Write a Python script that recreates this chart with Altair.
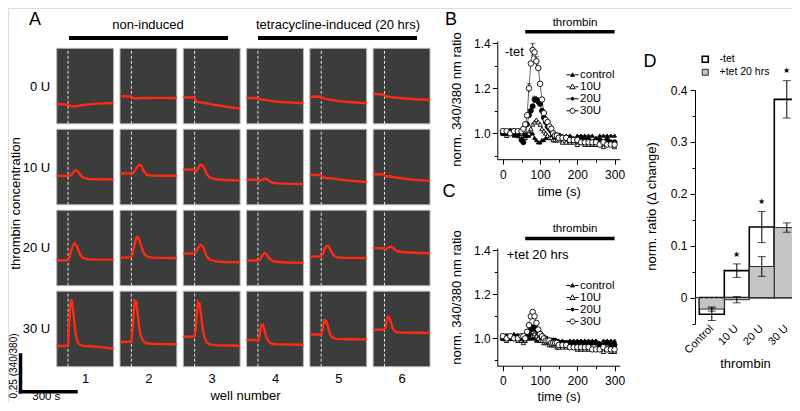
import json
import altair as alt
import pandas as pd

FONT = "Liberation Sans"
W, H = 784, 395
MARGIN = 8


def X(p):
    return round(p - MARGIN, 2)


def Y(p):
    return round(p - MARGIN, 2)


# ---------------- Panel A data ----------------
WELLS = [1, 2, 3, 4, 5, 6]
CONCENTRATIONS = ["0 U", "10 U", "20 U", "30 U"]
A_TIMES = [0, 50, 60, 66, 72, 78, 86, 94, 102, 112, 124, 140, 170, 220, 300]
TRACE_0U = [
    [0.135, 0.132, 0.130, 0.126, 0.123, 0.121, 0.119, 0.119, 0.120, 0.122, 0.125, 0.128, 0.133, 0.138, 0.142],
    [0.188, 0.186, 0.184, 0.178, 0.175, 0.174, 0.174, 0.174, 0.175, 0.175, 0.176, 0.176, 0.177, 0.177, 0.176],
    [0.181, 0.180, 0.178, 0.160, 0.152, 0.150, 0.148, 0.146, 0.145, 0.143, 0.140, 0.136, 0.128, 0.118, 0.104],
    [0.177, 0.176, 0.172, 0.168, 0.166, 0.165, 0.164, 0.163, 0.162, 0.160, 0.158, 0.155, 0.151, 0.146, 0.140],
    [0.184, 0.186, 0.180, 0.176, 0.174, 0.172, 0.170, 0.168, 0.166, 0.164, 0.162, 0.158, 0.153, 0.147, 0.140],
    [0.204, 0.200, 0.195, 0.188, 0.186, 0.185, 0.184, 0.182, 0.180, 0.180, 0.178, 0.176, 0.173, 0.168, 0.164],
]
TRACE_10U = [
    [0.198, 0.197, 0.197, 0.197, 0.200, 0.206, 0.218, 0.230, 0.236, 0.228, 0.205, 0.185, 0.176, 0.174, 0.173],
    [0.213, 0.214, 0.214, 0.215, 0.220, 0.230, 0.248, 0.264, 0.272, 0.268, 0.235, 0.205, 0.199, 0.198, 0.198],
    [0.240, 0.241, 0.236, 0.226, 0.232, 0.248, 0.265, 0.273, 0.268, 0.245, 0.210, 0.185, 0.174, 0.169, 0.165],
    [0.172, 0.170, 0.168, 0.166, 0.166, 0.168, 0.172, 0.177, 0.178, 0.170, 0.158, 0.150, 0.146, 0.143, 0.141],
    [0.204, 0.203, 0.200, 0.190, 0.186, 0.184, 0.183, 0.182, 0.181, 0.180, 0.178, 0.175, 0.170, 0.163, 0.155],
    [0.208, 0.207, 0.204, 0.196, 0.192, 0.192, 0.194, 0.193, 0.190, 0.188, 0.186, 0.183, 0.177, 0.170, 0.163],
]
TRACE_20U = [
    [0.172, 0.173, 0.175, 0.190, 0.215, 0.245, 0.275, 0.289, 0.280, 0.250, 0.210, 0.188, 0.180, 0.178, 0.178],
    [0.192, 0.193, 0.196, 0.215, 0.250, 0.290, 0.325, 0.333, 0.310, 0.270, 0.225, 0.200, 0.192, 0.190, 0.189],
    [0.220, 0.222, 0.224, 0.228, 0.240, 0.258, 0.272, 0.278, 0.270, 0.240, 0.200, 0.178, 0.166, 0.162, 0.160],
    [0.171, 0.172, 0.170, 0.172, 0.180, 0.195, 0.212, 0.222, 0.218, 0.200, 0.180, 0.168, 0.162, 0.158, 0.156],
    [0.198, 0.200, 0.202, 0.210, 0.228, 0.250, 0.268, 0.273, 0.262, 0.235, 0.208, 0.195, 0.191, 0.190, 0.189],
    [0.258, 0.256, 0.254, 0.248, 0.252, 0.258, 0.264, 0.267, 0.262, 0.250, 0.238, 0.232, 0.228, 0.225, 0.222],
]
TRACE_30U = [
    [0.141, 0.142, 0.148, 0.300, 0.430, 0.460, 0.390, 0.290, 0.210, 0.165, 0.148, 0.142, 0.139, 0.135, 0.122],
    [0.168, 0.169, 0.172, 0.240, 0.360, 0.450, 0.440, 0.350, 0.260, 0.200, 0.172, 0.160, 0.156, 0.154, 0.153],
    [0.204, 0.205, 0.206, 0.260, 0.370, 0.440, 0.430, 0.350, 0.260, 0.200, 0.165, 0.152, 0.147, 0.145, 0.143],
    [0.182, 0.181, 0.180, 0.195, 0.240, 0.285, 0.288, 0.255, 0.210, 0.180, 0.162, 0.155, 0.152, 0.151, 0.150],
    [0.220, 0.220, 0.222, 0.240, 0.285, 0.318, 0.312, 0.280, 0.240, 0.210, 0.195, 0.190, 0.188, 0.187, 0.186],
    [0.252, 0.253, 0.255, 0.270, 0.310, 0.340, 0.335, 0.300, 0.265, 0.245, 0.236, 0.233, 0.232, 0.231, 0.230],
]
THROMBIN_ADDED_S = 60
SCALE_BAR_S = 300
SCALE_BAR_RATIO = 0.25

# ---------------- Panels B / C data ----------------
SERIES = ["control", "10U", "20U", "30U"]
BC_TIMES = [0, 10, 20, 30, 40, 50, 55, 60, 65, 70, 75, 80, 85, 90, 95, 100, 105, 110, 115, 120, 125,
            130, 135, 140, 145, 150, 160, 170, 180, 190, 200, 210, 220, 230, 240, 250, 260, 270, 280, 290, 300]
B_CONTROL = [1.00, 1.01, 1.00, 0.99, 1.00, 1.00,
             1.00, 0.99, 0.99, 0.99, 1.00, 1.00, 0.98, 0.97, 0.96, 0.96, 0.97, 0.97, 0.98, 0.98,
             0.98, 0.99, 0.98, 0.98, 0.99, 0.99,
             0.99, 0.99, 0.99, 0.98, 0.99, 0.99, 0.99, 0.99, 0.99, 0.98, 0.99, 0.99, 0.99, 0.99, 0.99]
B_10U = [1.00, 0.99, 1.00, 1.00, 1.00, 1.00,
         0.99, 0.98, 1.00, 1.00, 1.02, 1.04, 1.05, 1.06, 1.05, 1.04, 1.02, 1.01, 1.00, 0.99,
         0.98, 0.98, 0.97, 0.97, 0.97, 0.97,
         0.96, 0.96, 0.96, 0.96, 0.95, 0.96, 0.95, 0.95, 0.95, 0.95, 0.95, 0.94, 0.95, 0.95, 0.94]
B_20U = [1.00, 1.00, 1.01, 1.00, 0.99, 0.97,
         0.96, 0.99, 1.04, 1.08, 1.10, 1.12, 1.15, 1.15, 1.14, 1.13, 1.10, 1.07, 1.05, 1.03,
         1.02, 1.01, 1.00, 0.99, 0.99, 0.99,
         0.98, 0.98, 0.98, 0.97, 0.97, 0.98, 0.97, 0.97, 0.96, 0.97, 0.97, 0.96, 0.97, 0.96, 0.96]
B_30U = [1.01, 1.01, 1.00, 1.01, 1.01, 1.01,
         1.02, 1.04, 1.08, 1.20, 1.31, 1.37, 1.36, 1.32, 1.29, 1.22, 1.15, 1.09, 1.06, 1.05,
         1.03, 1.02, 1.00, 0.99, 0.99, 0.98,
         0.98, 0.98, 0.97, 0.97, 0.97, 0.96, 0.96, 0.96, 0.96, 0.96, 0.95, 0.96, 0.95, 0.95, 0.95]
C_CONTROL = [1.01, 1.00, 1.01, 1.02, 1.01, 1.00,
             1.00, 1.00, 1.00, 1.00, 1.00, 1.00, 1.00, 0.99, 0.99, 0.99, 0.99, 0.99, 0.99, 0.99,
             0.99, 0.99, 0.99, 0.98, 0.99, 0.99,
             0.99, 0.98, 0.99, 0.99, 0.99, 0.99, 0.99, 0.99, 0.99, 0.99, 0.98, 0.99, 0.99, 0.99, 0.99]
C_10U = [1.00, 0.99, 1.00, 1.00, 0.99, 0.99,
         0.98, 0.99, 1.00, 1.01, 1.02, 1.03, 1.02, 1.01, 1.00, 0.99, 0.99, 0.98, 0.98, 0.98,
         0.97, 0.97, 0.97, 0.97, 0.96, 0.96,
         0.96, 0.96, 0.96, 0.96, 0.95, 0.95, 0.95, 0.95, 0.95, 0.95, 0.95, 0.94, 0.95, 0.94, 0.94]
C_20U = [1.00, 1.01, 1.00, 1.00, 1.01, 1.00,
         1.00, 1.00, 1.01, 1.02, 1.04, 1.05, 1.05, 1.04, 1.03, 1.02, 1.01, 1.00, 1.00, 0.99,
         0.99, 0.99, 0.99, 0.99, 0.98, 0.98,
         0.98, 0.98, 0.98, 0.97, 0.98, 0.98, 0.98, 0.97, 0.98, 0.98, 0.97, 0.97, 0.98, 0.97, 0.97]
C_30U = [1.01, 1.00, 1.01, 1.00, 1.00, 1.01,
         1.01, 1.00, 1.03, 1.06, 1.10, 1.12, 1.10, 1.07, 1.04, 1.02, 1.01, 1.00, 0.99, 0.99,
         0.99, 0.98, 0.98, 0.98, 0.98, 0.97,
         0.97, 0.97, 0.96, 0.96, 0.96, 0.96, 0.96, 0.96, 0.95, 0.95, 0.95, 0.96, 0.95, 0.95, 0.95]
B_ERR_SERIES = ["30U", "30U", "30U", "20U", "20U"]
B_ERR_T = [70, 80, 90, 85, 95]
B_ERR_SIZE = [0.02, 0.03, 0.02, 0.015, 0.015]
THROMBIN_PERIOD = [60, 300]

# ---------------- Panel D data ----------------
D_CATS = ["Control", "10 U", "20 U", "30 U"]
D_GROUPS = ["-tet", "+tet 20 hrs"]
D_MINUS_TET = [-0.032, 0.052, 0.136, 0.382]
D_MINUS_ERR = [0.012, 0.013, 0.030, 0.036]
D_PLUS_TET = [-0.022, -0.004, 0.060, 0.135]
D_PLUS_ERR = [0.004, 0.006, 0.019, 0.009]
D_SIGNIFICANT = ["10 U", "20 U", "30 U"]

# ---------------- layout ----------------
A_PITCH_S, A_PANEL_S = 334, 300
A_PITCH_U, A_PANEL_U = 0.552, 0.515
A_XD = [0, 5 * A_PITCH_S + A_PANEL_S]
A_XR = [X(56.7), X(430)]
A_YD = [0, 3 * A_PITCH_U + A_PANEL_U]
A_YR = [Y(366.7), Y(48.3)]

B_XD = [-15, 314]
B_XR = [X(497.3), X(619.8)]
B_YD = [0.885, 1.41]
B_YR = [Y(159.2), Y(41.05)]
C_YD = [0.876, 1.41]
C_YR = [Y(365.7), Y(248)]

D_XR = [X(699.3), X(799.3)]
D_YD = [-0.05, 0.4]
D_YR = [Y(323.6), Y(90)]

AX = dict(grid=False, domainColor="black", tickColor="black", labelColor="black",
          titleColor="black", labelFont=FONT, titleFont=FONT, titleFontWeight="normal",
          labelFlush=False, labelOverlap=False)

ONE = pd.DataFrame({"one": [0]})


def lin(domain, rng):
    return alt.Scale(domain=domain, range=rng, nice=False, zero=False)


def text(txt, x, y, size, align="center", baseline="middle", angle=0):
    return alt.Chart(ONE).mark_text(
        text=txt, fontSize=size, align=align, baseline=baseline, angle=angle,
        font=FONT, color="black"
    ).encode(x=alt.value(x), y=alt.value(y))


layers = []

# ================= Panel A =================
cells = []
for r, conc in enumerate(CONCENTRATIONS):
    for k, w in enumerate(WELLS):
        x0 = k * A_PITCH_S
        y0 = (3 - r) * A_PITCH_U
        cells.append({"well": w, "conc": conc, "x0": x0, "x1": x0 + A_PANEL_S,
                      "y0": y0, "y1": y0 + A_PANEL_U, "xs": x0 + THROMBIN_ADDED_S})
cells = pd.DataFrame(cells)

trace_rows = []
for r, traces in enumerate([TRACE_0U, TRACE_10U, TRACE_20U, TRACE_30U]):
    for k, vals in enumerate(traces):
        for t, v in zip(A_TIMES, vals):
            trace_rows.append({"key": f"{r}-{k}", "x": k * A_PITCH_S + t,
                               "y": (3 - r) * A_PITCH_U + v})
traces_df = pd.DataFrame(trace_rows)

ax_scale = lin(A_XD, A_XR)
ay_scale = lin(A_YD, A_YR)
a_xvals = [k * A_PITCH_S + A_PANEL_S / 2 for k in range(len(WELLS))]
a_yvals = [(3 - r) * A_PITCH_U + A_PANEL_U / 2 for r in range(4)]
well_expr = f"{json.dumps([str(w) for w in WELLS])}[round((datum.value - {A_PANEL_S / 2}) / {A_PITCH_S})]"
conc_expr = f"{json.dumps(CONCENTRATIONS)}[3 - round((datum.value - {A_PANEL_U / 2}) / {A_PITCH_U})]"

layers.append(
    alt.Chart(cells).mark_rect(fill="#3c3c3c", stroke="#b8b8b8", strokeWidth=1).encode(
        x=alt.X("x0:Q", scale=ax_scale, axis=alt.Axis(
            orient="bottom", offset=-(H - A_YR[0]), values=a_xvals, labelExpr=well_expr,
            domain=False, ticks=False, labelPadding=6, labelFontSize=13,
            title="well number", titleFontSize=13, titleX=X(245), titleY=395 - 366.7,
            titleBaseline="middle", titleAlign="center", **AX)),
        x2="x1:Q",
        y=alt.Y("y0:Q", scale=ay_scale, axis=alt.Axis(
            orient="left", offset=-A_XR[0], values=a_yvals, labelExpr=conc_expr,
            domain=False, ticks=False, labelPadding=7, labelFontSize=13,
            title="thrombin concentration", titleFontSize=13, titleAngle=270,
            titleX=X(15) - A_XR[0], titleY=Y(203), titleBaseline="middle",
            titleAlign="center", **AX)),
        y2="y1:Q",
    )
)
layers.append(
    alt.Chart(cells).mark_rule(color="#e4e4e4", strokeDash=[3, 2], strokeWidth=1).encode(
        x=alt.X("xs:Q", scale=ax_scale, axis=None),
        y=alt.Y("y0:Q", scale=ay_scale, axis=None),
        y2="y1:Q",
    )
)
layers.append(
    alt.Chart(traces_df).mark_line(color="#ff2a12", strokeWidth=2.4).encode(
        x=alt.X("x:Q", scale=ax_scale, axis=None),
        y=alt.Y("y:Q", scale=ay_scale, axis=None),
        detail="key:N",
    )
)
# scale bar
bar_df = pd.DataFrame({"x": [0, 0], "x2": [SCALE_BAR_S, 0], "y": [0, 0], "y2": [0, SCALE_BAR_RATIO]})
layers.append(
    alt.Chart(bar_df).mark_rule(color="black", strokeWidth=3.5, strokeCap="square").encode(
        x=alt.X("x:Q", scale=lin([0, SCALE_BAR_S], [X(20.5), X(76)]), axis=None),
        x2="x2:Q",
        y=alt.Y("y:Q", scale=lin([0, SCALE_BAR_RATIO], [Y(391.7), Y(355)]), axis=None),
        y2="y2:Q",
    )
)
# group header bars
for x1, x2 in [(69, 228), (258, 417)]:
    layers.append(alt.Chart(ONE).mark_rule(color="black", strokeWidth=4).encode(
        x=alt.value(X(x1)), x2=alt.value(X(x2)), y=alt.value(Y(38))))

# ================= Panels B and C =================
SHAPES = ["triangle-up", "triangle-up", "circle", "circle"]
FILLS = ["black", "white", "black", "white"]
SIZES = [14, 30, 13, 40]
LEG_PATHS = [
    "M-1,0H-0.35M0.35,0H1M0,-0.32L0.33,0.24H-0.33Z",
    "M-1,0H-0.45M0.45,0H1M0,-0.45L0.45,0.33H-0.45Z",
    "M-1,0H-0.3M0.3,0H1M0.24,0A0.24,0.24,0,1,1,-0.24,0A0.24,0.24,0,1,1,0.24,0Z",
    "M-1,0H-0.45M0.45,0H1M0.42,0A0.42,0.42,0,1,1,-0.42,0A0.42,0.42,0,1,1,0.42,0Z",
]


def time_panel(values, yd, yr, y_title_center, x_title_y, legend_top, err=None):
    rows = []
    for s, vals in zip(SERIES, values):
        for t, v in zip(BC_TIMES, vals):
            rows.append({"series": s, "t": t, "v": v})
    df = pd.DataFrame(rows)
    xs = lin(B_XD, B_XR)
    ys = lin(yd, yr)
    off_x = -(H - yr[0])
    out = []
    period = pd.DataFrame({"start": [THROMBIN_PERIOD[0]], "end": [THROMBIN_PERIOD[1]]})
    out.append(alt.Chart(period).mark_rule(color="black", strokeWidth=3.5).encode(
        x=alt.X("start:Q", scale=xs, axis=None), x2="end:Q",
        y=alt.value(yr[1] - 9.4)))
    out.append(alt.Chart(df).mark_line(color="black", strokeWidth=0.6).encode(
        x=alt.X("t:Q", scale=xs, axis=alt.Axis(
            orient="bottom", offset=off_x, values=[0, 100, 200, 300], tickSize=5,
            labelPadding=5, labelFontSize=12, title="time (s)", titleFontSize=13,
            titleX=X(558.7), titleY=x_title_y, titleBaseline="middle", titleAlign="center", **AX)),
        y=alt.Y("v:Q", scale=ys, axis=alt.Axis(
            orient="left", offset=-B_XR[0], values=[1.0, 1.2, 1.4], format=".1f", tickSize=5,
            labelPadding=2, labelFontSize=12, title="norm. 340/380 nm ratio", titleFontSize=13,
            titleAngle=270, titleX=456.7 - 497.3, titleY=Y(y_title_center),
            titleBaseline="middle", titleAlign="center", **AX)),
        detail="series:N",
    ))
    if err is not None:
        lookup = {(r["series"], r["t"]): r["v"] for r in rows}
        e = pd.DataFrame({"t": B_ERR_T,
                          "lo": [lookup[(s, t)] - d for s, t, d in zip(B_ERR_SERIES, B_ERR_T, B_ERR_SIZE)],
                          "hi": [lookup[(s, t)] + d for s, t, d in zip(B_ERR_SERIES, B_ERR_T, B_ERR_SIZE)]})
        out.append(alt.Chart(e).mark_rule(color="black", strokeWidth=0.8).encode(
            x=alt.X("t:Q", scale=xs, axis=None), y=alt.Y("lo:Q", scale=ys, axis=None), y2="hi:Q"))
        out.append(alt.Chart(e).mark_tick(color="black", orient="horizontal", size=5, thickness=0.8).encode(
            x=alt.X("t:Q", scale=xs, axis=None), y=alt.Y("hi:Q", scale=ys, axis=None)))
    out.append(alt.Chart(df).mark_point(filled=True, stroke="black", strokeWidth=0.9, opacity=1).encode(
        x=alt.X("t:Q", scale=xs, axis=alt.Axis(
            orient="bottom", offset=off_x, values=[50, 150, 250], tickSize=3, labels=False,
            domain=False, title=None, **AX)),
        y=alt.Y("v:Q", scale=ys, axis=alt.Axis(
            orient="left", offset=-B_XR[0], values=[0.9, 1.1, 1.3], tickSize=3, labels=False,
            domain=False, title=None, **AX)),
        shape=alt.Shape("series:N", scale=alt.Scale(domain=SERIES, range=SHAPES), legend=None),
        fill=alt.Fill("series:N", scale=alt.Scale(domain=SERIES, range=FILLS), legend=None),
        size=alt.Size("series:N", scale=alt.Scale(domain=SERIES, range=SIZES), legend=None),
    ))
    leg = alt.Legend(orient="none", legendX=X(566), legendY=Y(legend_top), title=None,
                     labelFont=FONT, labelFontSize=11.5, labelColor="black", labelOffset=1,
                     rowPadding=-0.7, symbolSize=144, symbolStrokeWidth=1,
                     symbolStrokeColor="black", symbolOpacity=1, padding=0)
    out.append(alt.Chart(pd.DataFrame({"series": SERIES})).mark_point(
        filled=False, strokeWidth=1, opacity=0).encode(
        shape=alt.Shape("series:N", scale=alt.Scale(domain=SERIES, range=LEG_PATHS), legend=leg),
        fill=alt.Fill("series:N", scale=alt.Scale(domain=SERIES, range=FILLS), legend=leg),
        stroke=alt.Stroke("series:N", scale=alt.Scale(domain=SERIES, range=["black"] * 4), legend=leg),
    ))
    return out


layers += time_panel([B_CONTROL, B_10U, B_20U, B_30U], B_YD, B_YR, 99, 191 - 159.2, 68.3, err=True)
layers += time_panel([C_CONTROL, C_10U, C_20U, C_30U], C_YD, C_YR, 297, 396.7 - 365.7, 279)

# ================= Panel D =================
drows = []
for g, vals, errs in [(D_GROUPS[0], D_MINUS_TET, D_MINUS_ERR), (D_GROUPS[1], D_PLUS_TET, D_PLUS_ERR)]:
    for c, v, e in zip(D_CATS, vals, errs):
        drows.append({"group": g, "cat": c, "value": v, "base": 0, "lo": v - e, "hi": v + e})
ddf = pd.DataFrame(drows)
dx = alt.Scale(domain=D_CATS, range=D_XR, paddingInner=0, paddingOuter=0)
dy = lin(D_YD, D_YR)
dleg = alt.Legend(orient="none", legendX=X(700), legendY=Y(54), title=None, labelFont=FONT,
                  labelFontSize=10.5, labelColor="black", labelOffset=9, rowPadding=1,
                  symbolType="square", symbolSize=36, symbolStrokeWidth=1.3, padding=0)
layers.append(alt.Chart(ddf).mark_bar().encode(
    x=alt.X("cat:N", scale=dx, sort=D_CATS, axis=alt.Axis(
        orient="bottom", offset=-(H - D_YR[0]), domain=False, ticks=False, labelAngle=315,
        labelAlign="right", labelBaseline="middle", labelPadding=3, labelFontSize=11,
        title="thrombin", titleFontSize=13, titleX=X(745), titleY=357 - 323.6,
        titleBaseline="top", titleAlign="center", **AX)),
    y=alt.Y("value:Q", scale=dy, axis=alt.Axis(
        orient="left", offset=-X(695), values=[0, 0.1, 0.2, 0.3, 0.4],
        labelExpr="datum.value == 0 ? '0' : format(datum.value, '.1f')", tickSize=5,
        labelPadding=3, labelFontSize=12, title="norm. ratio (Δ change)", titleFontSize=13,
        titleAngle=270, titleX=651.7 - 695, titleY=Y(206), titleBaseline="middle",
        titleAlign="center", **AX)),
    y2="base:Q",
    fill=alt.Fill("group:N", scale=alt.Scale(domain=D_GROUPS, range=["white", "#c4c4c4"]), legend=dleg),
    stroke=alt.Stroke("group:N", scale=alt.Scale(domain=D_GROUPS, range=["black", "#2a2a2a"]), legend=dleg),
    strokeWidth=alt.StrokeWidth("group:N", scale=alt.Scale(domain=D_GROUPS, range=[1.6, 1.0]), legend=None),
))
layers.append(alt.Chart(pd.DataFrame({"zero": [0]})).mark_rule(
    color="black", strokeDash=[3, 2], strokeWidth=1).encode(
    x=alt.value(X(695)), x2=alt.value(X(725.3)),
    y=alt.Y("zero:Q", scale=dy, axis=None)))
layers.append(alt.Chart(ddf).mark_rule(color="black", strokeWidth=1).encode(
    x=alt.X("cat:N", scale=dx, sort=D_CATS, axis=None),
    y=alt.Y("lo:Q", scale=dy, axis=alt.Axis(
        orient="left", offset=-X(695), values=[-0.05, 0.05, 0.15, 0.25, 0.35], tickSize=3,
        labels=False, domain=False, title=None, **AX)),
    y2="hi:Q"))
for col in ["lo", "hi"]:
    layers.append(alt.Chart(ddf).mark_tick(color="black", orient="horizontal", size=8, thickness=1).encode(
        x=alt.X("cat:N", scale=dx, sort=D_CATS, axis=None),
        y=alt.Y(f"{col}:Q", scale=dy, axis=None)))
stars = ddf[(ddf["group"] == D_GROUPS[0]) & (ddf["cat"].isin(D_SIGNIFICANT))].copy()
stars["star_y"] = stars["hi"] + 0.018
layers.append(alt.Chart(stars).mark_text(text="★", fontSize=8, color="black", baseline="middle").encode(
    x=alt.X("cat:N", scale=dx, sort=D_CATS, axis=None),
    y=alt.Y("star_y:Q", scale=dy, axis=None)))

# ================= text annotations =================
layers += [
    text("A", X(35), 3, 18, baseline="top"),
    text("non-induced", X(148), Y(25), 13),
    text("tetracycline-induced (20 hrs)", X(338), Y(25), 13),
    text("0.25 (340/380)", X(14), Y(366), 10, angle=270),
    text("300 s", X(46.3), Y(397), 11.5),
    text("B", X(451), 3, 18, baseline="top"),
    text("-tet", X(505), Y(52), 13, align="left"),
    text("thrombin", X(575), Y(23.3), 11.5),
    text("C", X(449), Y(192), 18),
    text("+tet 20 hrs", X(506.7), Y(255), 13, align="left"),
    text("thrombin", X(575), Y(229.3), 11.5),
    text("D", X(650), Y(62), 18),
]

chart = alt.layer(*layers).properties(
    width=W, height=H, autosize=alt.AutoSizeParams(type="none"), padding=0
).resolve_scale(
    x="independent", y="independent", fill="independent", stroke="independent",
    shape="independent", size="independent", strokeWidth="independent"
).resolve_axis(
    x="independent", y="independent"
).resolve_legend(
    fill="independent", stroke="independent", shape="independent", size="independent",
    strokeWidth="independent"
).configure_view(
    strokeWidth=0
).configure(
    font=FONT
)

chart.save("out.html", embed_options={"renderer": "svg", "actions": False})
